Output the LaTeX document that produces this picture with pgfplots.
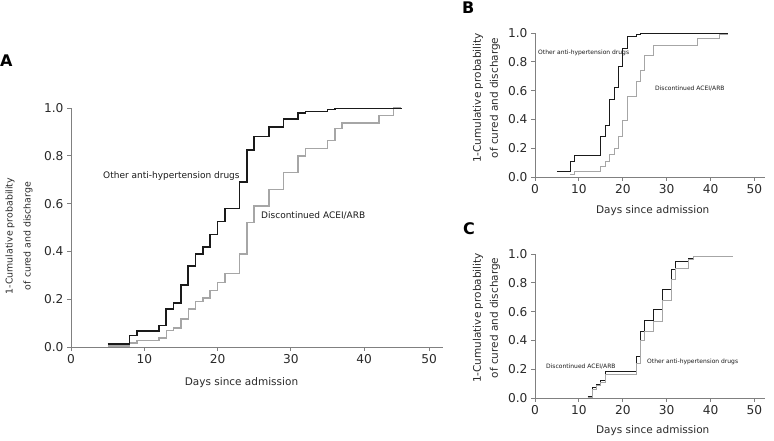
\documentclass[border=0pt]{standalone}
\usepackage{pgfplots}
\pgfplotsset{compat=1.18}
\usepackage{fontspec}
\setmainfont{DejaVu Sans}
\definecolor{axgray}{HTML}{808080}
\definecolor{txt}{HTML}{2A2A2A}
\definecolor{cblack}{HTML}{1A1A1A}
\definecolor{cgray}{HTML}{A6A6A6}
\pgfplotsset{
  km/.style={
    scale only axis, anchor=south west,
    axis x line=bottom, axis y line=left,
    axis line style={axgray, line width=0.8pt, -},
    tick style={axgray, line width=0.8pt},
    tick align=outside, major tick length=4pt,
    ymin=0, ymax=1, xmin=0,
    ytick={0,0.2,0.4,0.6,0.8,1.0},
    yticklabels={0.0,0.2,0.4,0.6,0.8,1.0},
    ticklabel style={font=\fontsize{12.2}{14}\selectfont, text=txt},
    /pgf/number format/assume math mode=true,
    clip=false,
  }
}
\begin{document}
\begin{tikzpicture}
\useasboundingbox (0,0) rectangle (774pt,441pt);
% ---------------- Panel A ----------------
\begin{axis}[km, at={(71pt,94pt)}, width=372.3pt, height=239pt,
  xmax=50.8, xtick={0,10,20,30,40,48.85}, xticklabels={0,10,20,30,40,50}]
\addplot[const plot, color=cgray, line width=1.5pt] coordinates {
(5,0.005) (8,0.016) (9,0.027) (12,0.037) (13,0.07) (14,0.08) (15,0.118) (16,0.16)
(17,0.19) (18,0.205) (19,0.237) (20,0.27) (21,0.307) (23,0.39) (24,0.52) (25,0.59)
(27,0.66) (29,0.73) (31,0.80) (32,0.83) (35,0.864) (36,0.914) (37,0.9375) (42,0.968)
(44,1.0) (45,1.0)};
\addplot[const plot, color=cblack, line width=1.6pt] coordinates {
(5,0.012) (8,0.048) (9,0.068) (12,0.09) (13,0.158) (14,0.185) (15,0.26) (16,0.34)
(17,0.39) (18,0.418) (19,0.47) (20,0.525) (21,0.58) (23,0.69) (24,0.825) (25,0.88)
(27,0.92) (29,0.955) (31,0.978) (32,0.986) (35,0.993) (36,0.998) (45,1.0)};
\end{axis}
% ---------------- Panel B ----------------
\begin{axis}[km, at={(535pt,264pt)}, width=230pt, height=144pt,
  xmax=52.4, xtick={0,10,20,30,40,50}]
\addplot[const plot, color=cgray, line width=0.9pt] coordinates {
(8,0.018) (9,0.037) (15,0.07) (16,0.106) (17,0.157) (18,0.199) (19,0.28) (20,0.396)
(21,0.558) (23,0.662) (24,0.743) (25,0.847) (27,0.912) (37,0.963) (42,0.993) (44,0.993)};
\addplot[const plot, color=cblack, line width=0.9pt] coordinates {
(5,0.037) (8,0.106) (9,0.148) (15,0.28) (16,0.36) (17,0.54) (18,0.62) (19,0.766)
(20,0.894) (21,0.977) (23,0.99) (24,1.0) (44,1.0)};
\end{axis}
% ---------------- Panel C ----------------
\begin{axis}[km, at={(535pt,43pt)}, width=230pt, height=144pt,
  xmax=52.4, xtick={0,10,20,30,40,50}]
\addplot[const plot, color=cblack, line width=0.9pt] coordinates {
(12,0.01) (13,0.07) (14,0.095) (15,0.125) (16,0.1875) (23,0.29) (24,0.465) (25,0.54)
(27,0.614) (29,0.757) (31,0.89) (32,0.945) (35,0.97) (36,0.98) (45,0.98)};
\addplot[const plot, color=cgray, line width=0.9pt] coordinates {
(12,0.004) (13,0.06) (14,0.085) (15,0.105) (16,0.165) (23,0.24) (24,0.40) (25,0.46)
(27,0.53) (29,0.675) (31,0.825) (32,0.90) (35,0.96) (36,0.98) (45,0.98)};
\end{axis}
% ---------------- Labels ----------------
\node[anchor=west, inner sep=0pt, font=\fontsize{16}{18}\bfseries\selectfont] at (0pt,380pt) {A};
\node[anchor=west, inner sep=0pt, font=\fontsize{16}{18}\bfseries\selectfont] at (462pt,433pt) {B};
\node[anchor=west, inner sep=0pt, font=\fontsize{16}{18}\bfseries\selectfont] at (463pt,212pt) {C};
% y labels
\node[rotate=90, align=center, inner sep=0pt, text=txt, font=\fontsize{9.4}{18}\selectfont] at (19pt,205pt) {1-Cumulative probability\\of cured and discharge};
\node[rotate=90, align=center, inner sep=0pt, text=txt, font=\fontsize{10.5}{17}\selectfont] at (486.5pt,343pt) {1-Cumulative probability\\of cured and discharge};
\node[rotate=90, align=center, inner sep=0pt, text=txt, font=\fontsize{10.5}{17}\selectfont] at (486.5pt,123pt) {1-Cumulative probability\\of cured and discharge};
% x labels
\node[inner sep=0pt, text=txt, font=\fontsize{10.5}{12}\selectfont] at (241.5pt,58.3pt) {Days since admission};
\node[inner sep=0pt, text=txt, font=\fontsize{10.5}{12}\selectfont] at (652.7pt,230pt) {Days since admission};
\node[inner sep=0pt, text=txt, font=\fontsize{10.5}{12}\selectfont] at (652.7pt,10.3pt) {Days since admission};
% annotations
\node[anchor=west, inner sep=0pt, text=cblack, font=\fontsize{9}{11}\selectfont] at (103pt,265pt) {Other anti-hypertension drugs};
\node[anchor=west, inner sep=0pt, text=cblack, font=\fontsize{9}{11}\selectfont] at (261pt,225pt) {Discontinued ACEI/ARB};
\node[anchor=west, inner sep=0pt, text=cblack, font=\fontsize{6}{7}\selectfont] at (538pt,388pt) {Other anti-hypertension drugs};
\node[anchor=west, inner sep=0pt, text=cblack, font=\fontsize{6}{7}\selectfont] at (655pt,352pt) {Discontinued ACEI/ARB};
\node[anchor=west, inner sep=0pt, text=cblack, font=\fontsize{6}{7}\selectfont] at (546pt,74pt) {Discontinued ACEI/ARB};
\node[anchor=west, inner sep=0pt, text=cblack, font=\fontsize{6}{7}\selectfont] at (647pt,79pt) {Other anti-hypertension drugs};
\end{tikzpicture}
\end{document}
